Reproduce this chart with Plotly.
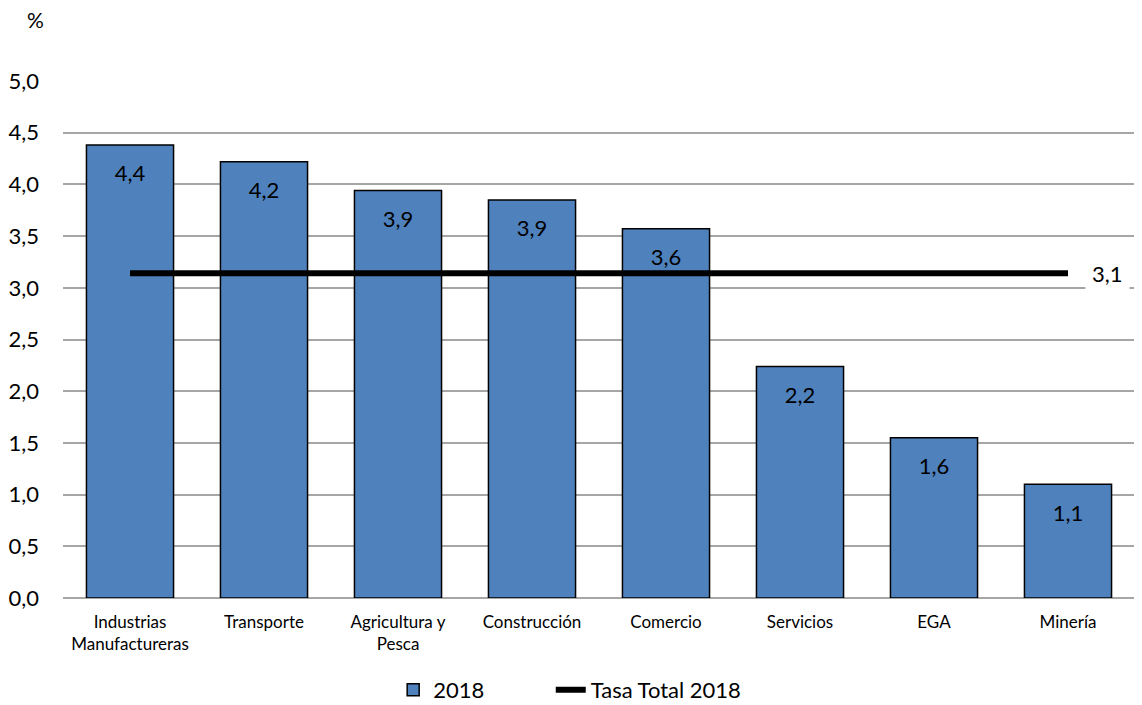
import plotly.graph_objects as go

categories = ["Industrias<br>Manufactureras", "Transporte", "Agricultura y<br>Pesca",
              "Construcción", "Comercio", "Servicios", "EGA", "Minería"]
values_2018 = [4.38, 4.22, 3.94, 3.85, 3.57, 2.24, 1.55, 1.10]
bar_labels = ["4,4", "4,2", "3,9", "3,9", "3,6", "2,2", "1,6", "1,1"]
tasa_total = 3.14
tasa_label = "3,1"
y_ticks = [0, 0.5, 1, 1.5, 2, 2.5, 3, 3.5, 4, 4.5, 5]

FONT = "Lato, Open Sans, sans-serif"

fig = go.Figure()
fig.add_trace(go.Bar(
    x=categories, y=values_2018, name="2018", legend="legend",
    marker=dict(color="#4F81BD", line=dict(color="black", width=1.5)),
    width=0.65, hoverinfo="x+y",
))
# value labels inside bars, a little below the top
fig.add_trace(go.Scatter(
    x=categories, y=values_2018, mode="markers+text", text=bar_labels,
    textposition="bottom center", showlegend=False, hoverinfo="skip",
    marker=dict(size=30, opacity=0),
    textfont=dict(size=22, color="black", family=FONT), cliponaxis=False,
))
fig.add_trace(go.Scatter(
    x=categories, y=[tasa_total] * len(categories), name="Tasa Total 2018",
    legend="legend2", mode="lines", line=dict(color="black", width=6),
))
fig.add_annotation(
    x=categories[-1], y=tasa_total, text=tasa_label, showarrow=False,
    xanchor="left", xshift=17, bgcolor="white", borderpad=6,
    font=dict(size=22, color="black", family=FONT),
)
fig.add_annotation(
    x=-0.026, y=1.118, xref="paper", yref="paper", text="%", showarrow=False,
    xanchor="center", yanchor="middle",
    font=dict(size=21, color="black", family=FONT),
)

legend_common = dict(orientation="h", y=-0.178, yanchor="middle", xanchor="left",
                     font=dict(size=22, family=FONT), bgcolor="rgba(0,0,0,0)")

# the page body has an 8px offset, so the figure is sized to fit the window
fig.update_layout(
    width=1134, height=697,
    margin=dict(l=55, r=7, t=73, b=107, autoexpand=False),
    plot_bgcolor="white", paper_bgcolor="white",
    separators=",.",
    font=dict(family=FONT, color="black"),
    showlegend=True,
    legend=dict(x=0.308, **legend_common),
    legend2=dict(x=0.455, **legend_common),
    xaxis=dict(range=[-0.5, len(categories) - 0.5], showgrid=False,
               tickfont=dict(size=17, family=FONT), ticks="",
               showline=False, automargin=False, ticklabelstandoff=12),
    yaxis=dict(range=[0, 5], tickvals=y_ticks, tickformat=".1f",
               showgrid=True, gridcolor="#A6A6A6", gridwidth=2,
               zeroline=True, zerolinecolor="#A6A6A6", zerolinewidth=2,
               tickfont=dict(size=22, family=FONT), ticks="", ticklabelstandoff=23,
               showline=False, automargin=False),
)

fig.write_html("out.html")
